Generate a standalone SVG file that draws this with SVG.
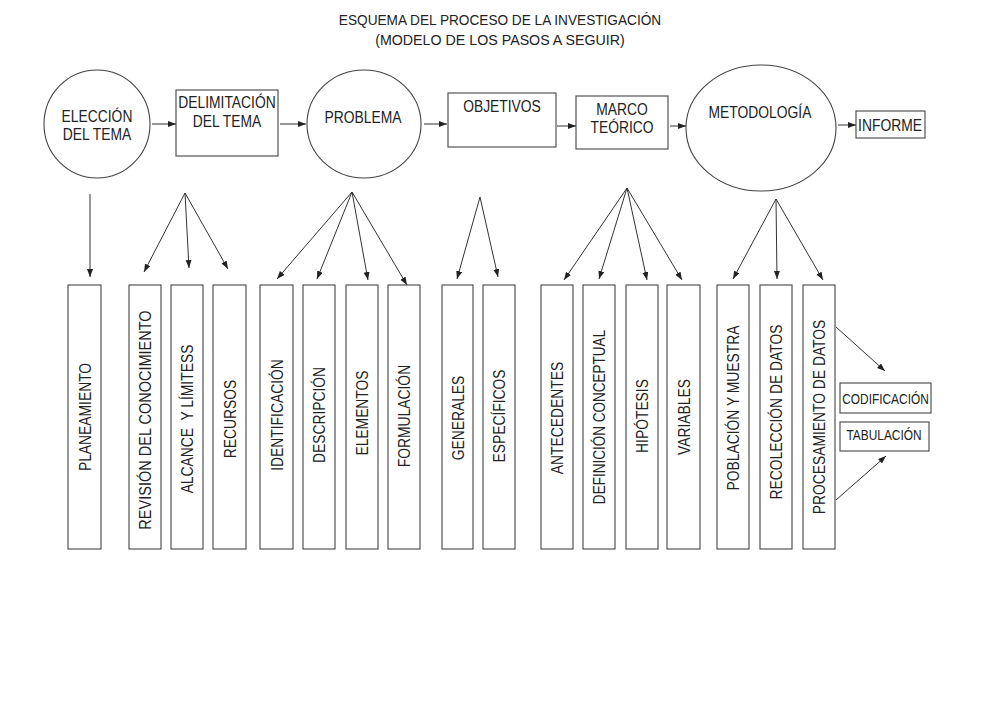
<svg xmlns="http://www.w3.org/2000/svg" width="1000" height="707" viewBox="0 0 1000 707">
<style>
  text { font-family: "Liberation Sans", Arial, sans-serif; fill: #222; }
  .t { font-size: 15px; text-anchor: middle; }
  .h { font-size: 16.5px; text-anchor: middle; }
  .v { font-size: 16.5px; text-anchor: middle; }
  .s { font-size: 14px; text-anchor: middle; }
  .shape { fill: #fff; stroke: #444; stroke-width: 1.1; }
  .conn line { stroke: #333; stroke-width: 1; marker-end: url(#ah); }
</style>
<defs>
  <marker id="ah" markerUnits="userSpaceOnUse" markerWidth="9" markerHeight="7" refX="8" refY="3" orient="auto">
    <path d="M0,0 L8,3 L0,6 z" fill="#222"/>
  </marker>
</defs>
<rect width="1000" height="707" fill="#fff"/>

<g id="title">
  <text class="t" transform="translate(500,25) scale(0.91,1)">ESQUEMA DEL PROCESO DE LA INVESTIGACIÓN</text>
  <text class="t" transform="translate(500,45) scale(0.95,1)">(MODELO DE LOS PASOS A SEGUIR)</text>
</g>

<!-- Top row -->
<g id="eleccion">
  <ellipse class="shape" cx="97" cy="124" rx="53" ry="54"/>
  <text class="h" transform="translate(97,122) scale(0.84,1)">ELECCIÓN</text>
  <text class="h" transform="translate(97,140) scale(0.84,1)">DEL TEMA</text>
</g>
<g id="delimitacion">
  <rect class="shape" x="176" y="90" width="102" height="66"/>
  <text class="h" transform="translate(227,108) scale(0.84,1)">DELIMITACIÓN</text>
  <text class="h" transform="translate(227,127) scale(0.84,1)">DEL TEMA</text>
</g>
<g id="problema">
  <ellipse class="shape" cx="364" cy="124" rx="57" ry="54"/>
  <text class="h" transform="translate(363,123) scale(0.84,1)">PROBLEMA</text>
</g>
<g id="objetivos">
  <rect class="shape" x="448" y="93" width="108" height="54"/>
  <text class="h" transform="translate(502,112) scale(0.84,1)">OBJETIVOS</text>
</g>
<g id="marco">
  <rect class="shape" x="576" y="96" width="92" height="53"/>
  <text class="h" transform="translate(622,115) scale(0.84,1)">MARCO</text>
  <text class="h" transform="translate(622,133) scale(0.84,1)">TEÓRICO</text>
</g>
<g id="metodologia">
  <ellipse class="shape" cx="761" cy="128" rx="75" ry="63"/>
  <text class="h" transform="translate(760,118) scale(0.84,1)">METODOLOGÍA</text>
</g>
<g id="informe">
  <rect class="shape" x="856" y="111" width="69" height="27"/>
  <text class="h" transform="translate(890,131) scale(0.84,1)">INFORME</text>
</g>

<!-- Bottom boxes -->
<g id="planeamiento"><rect class="shape" x="68" y="285" width="33" height="264"/><text class="v" transform="translate(90.5,417) rotate(-90) scale(0.84,1)">PLANEAMIENTO</text></g>
<g id="revision"><rect class="shape" x="129" y="285" width="32" height="264"/><text class="v" transform="translate(151,420) rotate(-90) scale(0.88,1)">REVISIÓN DEL CONOCIMIENTO</text></g>
<g id="alcance"><rect class="shape" x="171" y="285" width="32" height="264"/><text class="v" transform="translate(193,419) rotate(-90) scale(0.84,1)" xml:space="preserve">ALCANCE  Y LÍMITESS</text></g>
<g id="recursos"><rect class="shape" x="213" y="285" width="33" height="264"/><text class="v" transform="translate(235.5,419) rotate(-90) scale(0.84,1)">RECURSOS</text></g>
<g id="identificacion"><rect class="shape" x="260" y="285" width="33" height="264"/><text class="v" transform="translate(282.5,415) rotate(-90) scale(0.84,1)">IDENTIFICACIÓN</text></g>
<g id="descripcion"><rect class="shape" x="303" y="285" width="32" height="264"/><text class="v" transform="translate(325,415) rotate(-90) scale(0.84,1)">DESCRIPCIÓN</text></g>
<g id="elementos"><rect class="shape" x="346" y="285" width="32" height="264"/><text class="v" transform="translate(368,413) rotate(-90) scale(0.84,1)">ELEMENTOS</text></g>
<g id="formulacion"><rect class="shape" x="388" y="285" width="32" height="264"/><text class="v" transform="translate(410,416) rotate(-90) scale(0.84,1)">FORMULACIÓN</text></g>
<g id="generales"><rect class="shape" x="442" y="285" width="31" height="264"/><text class="v" transform="translate(463.5,418) rotate(-90) scale(0.84,1)">GENERALES</text></g>
<g id="especificos"><rect class="shape" x="483" y="285" width="32" height="264"/><text class="v" transform="translate(505,416) rotate(-90) scale(0.84,1)">ESPECÍFICOS</text></g>
<g id="antecedentes"><rect class="shape" x="541" y="285" width="32" height="264"/><text class="v" transform="translate(563,418) rotate(-90) scale(0.84,1)">ANTECEDENTES</text></g>
<g id="definicion"><rect class="shape" x="583" y="285" width="32" height="264"/><text class="v" transform="translate(605,417) rotate(-90) scale(0.82,1)">DEFINICIÓN CONCEPTUAL</text></g>
<g id="hipotesis"><rect class="shape" x="626" y="285" width="32" height="264"/><text class="v" transform="translate(648,416) rotate(-90) scale(0.84,1)">HIPÓTESIS</text></g>
<g id="variables"><rect class="shape" x="667" y="285" width="33" height="264"/><text class="v" transform="translate(689.5,417) rotate(-90) scale(0.84,1)">VARIABLES</text></g>
<g id="poblacion"><rect class="shape" x="717" y="285" width="32" height="264"/><text class="v" transform="translate(739,408) rotate(-90) scale(0.84,1)">POBLACIÓN Y MUESTRA</text></g>
<g id="recoleccion"><rect class="shape" x="760" y="285" width="32" height="264"/><text class="v" transform="translate(782,412) rotate(-90) scale(0.84,1)">RECOLECCIÓN DE DATOS</text></g>
<g id="procesamiento"><rect class="shape" x="803" y="285" width="32" height="264"/><text class="v" transform="translate(825,417) rotate(-90) scale(0.84,1)">PROCESAMIENTO DE DATOS</text></g>

<g id="codificacion"><rect class="shape" x="840" y="383" width="91" height="30"/><text class="s" transform="translate(885.5,404) scale(0.85,1)">CODIFICACIÓN</text></g>
<g id="tabulacion"><rect class="shape" x="840" y="422" width="89" height="29"/><text class="s" transform="translate(884,440) scale(0.85,1)">TABULACIÓN</text></g>

<g id="connectors" class="conn">
  <!-- top row -->
  <line x1="152" y1="124" x2="176" y2="124"/>
  <line x1="280" y1="124" x2="306" y2="124"/>
  <line x1="424" y1="124" x2="447" y2="124"/>
  <line x1="557" y1="126" x2="576" y2="126"/>
  <line x1="670" y1="126" x2="686" y2="126"/>
  <line x1="838" y1="125" x2="856" y2="125"/>
  <!-- eleccion -->
  <line x1="90" y1="194" x2="90" y2="277"/>
  <!-- delimitacion -->
  <line x1="185" y1="193" x2="144" y2="272"/>
  <line x1="185" y1="193" x2="189" y2="268"/>
  <line x1="185" y1="193" x2="228" y2="269"/>
  <!-- problema -->
  <line x1="352" y1="192" x2="277" y2="279"/>
  <line x1="352" y1="192" x2="317" y2="279"/>
  <line x1="352" y1="192" x2="368" y2="280"/>
  <line x1="352" y1="192" x2="407" y2="285"/>
  <!-- objetivos -->
  <line x1="480" y1="197" x2="457" y2="279"/>
  <line x1="480" y1="197" x2="498" y2="277"/>
  <!-- marco -->
  <line x1="627" y1="188" x2="564" y2="280"/>
  <line x1="627" y1="188" x2="599" y2="279"/>
  <line x1="627" y1="188" x2="647" y2="280"/>
  <line x1="627" y1="188" x2="682" y2="280"/>
  <!-- metodologia -->
  <line x1="776" y1="199" x2="733" y2="279"/>
  <line x1="776" y1="199" x2="777" y2="279"/>
  <line x1="776" y1="199" x2="823" y2="280"/>
  <!-- procesamiento -->
  <line x1="836" y1="327" x2="885" y2="371"/>
  <line x1="836" y1="500" x2="886" y2="456"/>
</g>
</svg>
